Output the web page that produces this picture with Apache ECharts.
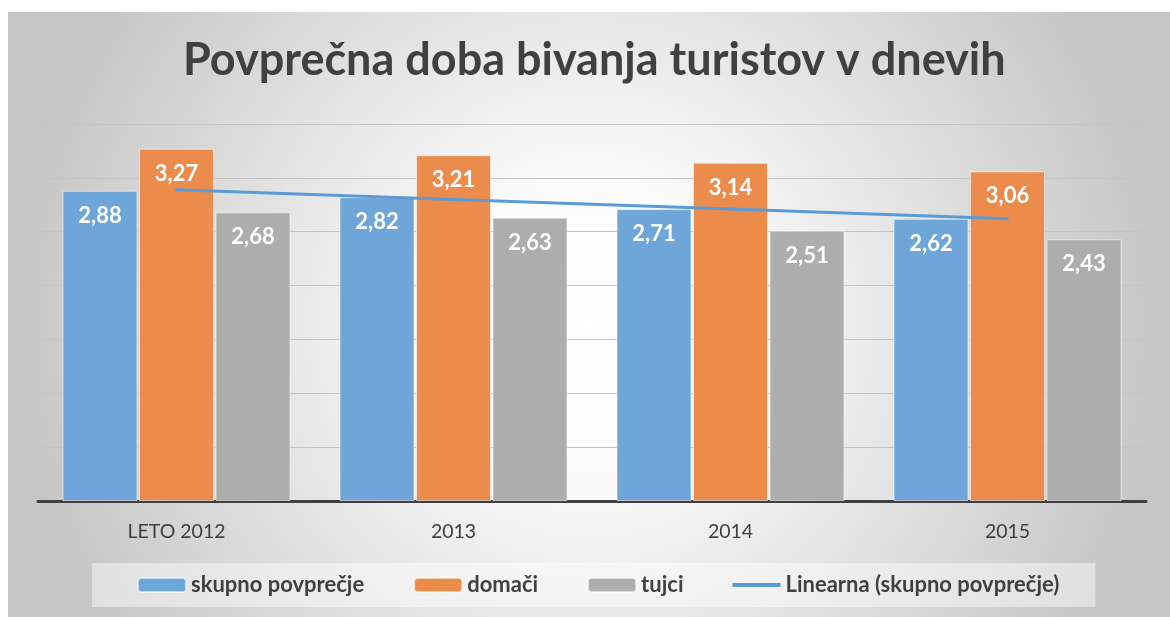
<!DOCTYPE html>
<html>
<head>
<meta charset="utf-8">
<title>Povprečna doba bivanja turistov v dnevih</title>
<script src="https://cdn.jsdelivr.net/npm/echarts@6/dist/echarts.min.js"></script>
<style>
    html, body {margin: 0; padding: 0; background: #fff;}
    #chart {width: 1170px; height: 617px;}
</style>
</head>
<body>
<div id="chart"></div>
<script>
var categories = ['LETO 2012', '2013', '2014', '2015'];
var skupno = [2.88, 2.82, 2.71, 2.62];
var domaci = [3.27, 3.21, 3.14, 3.06];
var tujci = [2.68, 2.63, 2.51, 2.43];
// trend line
var linearna = [2.89, 2.80, 2.71, 2.62];

var seriesNames = ['skupno povprečje', 'domači', 'tujci', 'Linearna (skupno povprečje)'];

var textColor = '#404040';
var fontFamily = 'Lato, "Open Sans", sans-serif';

function barLabel() {
    return {
        show: true,
        position: 'insideTop',
        distance: 14,
        color: '#fff',
        fontSize: 22,
        fontWeight: 'bold',
        fontFamily: fontFamily,
        formatter: function (p) {
            return p.value.toFixed(2).replace('.', ',');
        }
    };
}

function barSeries(name, data, color) {
    return {
        name: name,
        type: 'bar',
        data: data,
        barWidth: 75,
        barGap: '2%',
        itemStyle: {
            color: color,
            borderColor: 'rgba(255,255,255,0.55)',
            borderWidth: 1
        },
        label: barLabel()
    };
}

var myChart = echarts.init(document.getElementById('chart'));

var option = {
    backgroundColor: '#fff',
    animation: false,
    textStyle: {fontFamily: fontFamily},
    graphic: [
        {
            type: 'rect',
            z: -10,
            shape: {x: 8, y: 12, width: 1162, height: 605},
            style: {
                fill: new echarts.graphic.RadialGradient(0.5, 0.52, 0.95, [
                    {offset: 0, color: '#ffffff'},
                    {offset: 0.25, color: '#fbfbfb'},
                    {offset: 1, color: '#c6c6c6'}
                ])
            }
        }
    ],
    title: {
        text: 'Povprečna doba bivanja turistov v dnevih',
        left: 178,
        top: 33,
        textStyle: {
            color: textColor,
            fontSize: 45,
            fontWeight: 'bold',
            fontFamily: fontFamily
        }
    },
    legend: {
        data: [
            {name: seriesNames[0]},
            {name: seriesNames[1]},
            {name: seriesNames[2]},
            {name: seriesNames[3], icon: 'path://M0,0H48V4H0Z'}
        ],
        left: 92,
        top: 563,
        padding: [11, 36, 11, 45],
        backgroundColor: 'rgba(255,255,255,0.45)',
        itemWidth: 48,
        itemHeight: 14,
        itemGap: 49,
        textStyle: {
            color: textColor,
            fontSize: 22,
            fontWeight: 'bold',
            fontFamily: fontFamily
        }
    },
    grid: {
        left: 38,
        right: 24,
        top: 124,
        bottom: 116,
        containLabel: false
    },
    xAxis: {
        type: 'category',
        data: categories,
        axisTick: {show: false},
        axisLine: {lineStyle: {color: '#404040', width: 3}},
        axisLabel: {
            color: textColor,
            fontSize: 19.5,
            fontFamily: fontFamily,
            margin: 21
        }
    },
    yAxis: {
        type: 'value',
        min: 0,
        max: 3.5,
        interval: 0.5,
        axisLabel: {show: false},
        axisLine: {show: false},
        axisTick: {show: false},
        splitLine: {lineStyle: {color: '#c4c4c4', width: 1}}
    },
    series: [
        barSeries(seriesNames[0], skupno, '#6fa6d9'),
        barSeries(seriesNames[1], domaci, '#eb8c4c'),
        barSeries(seriesNames[2], tujci, '#adadad'),
        {
            name: seriesNames[3],
            type: 'line',
            data: linearna,
            symbol: 'none',
            z: 5,
            lineStyle: {color: '#5b9bd5', width: 3, cap: 'round'},
            itemStyle: {color: '#5b9bd5'}
        }
    ]
};

myChart.setOption(option);
</script>
</body>
</html>
